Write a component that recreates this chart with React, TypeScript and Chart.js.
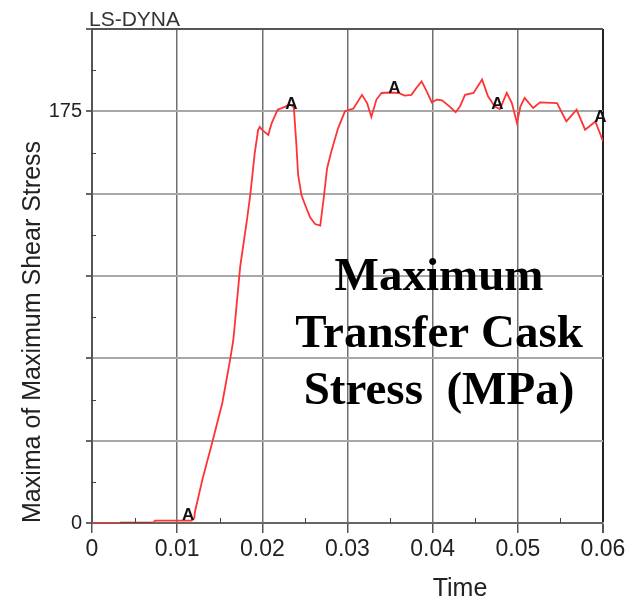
import React, { useEffect, useRef } from "react";
import { Chart, registerables } from "chart.js";

Chart.register(...registerables);

// ---- data ----
const timeValues = [
  0, 0.0072, 0.0074, 0.0117, 0.012, 0.0121, 0.013, 0.0141, 0.0153, 0.0162,
  0.0166, 0.0174, 0.0182, 0.0186, 0.0191, 0.0195, 0.0197, 0.02, 0.0207, 0.0211,
  0.0218, 0.0227, 0.0232, 0.0237, 0.024, 0.0242, 0.0246, 0.0252, 0.0256, 0.0262,
  0.0268, 0.0272, 0.0276, 0.0281, 0.0289, 0.0297, 0.0307, 0.0317, 0.0323, 0.0328,
  0.0334, 0.034, 0.035, 0.036, 0.0367, 0.0375, 0.0381, 0.0387, 0.0393, 0.0399,
  0.0405, 0.0411, 0.042, 0.0427, 0.0432, 0.0438, 0.0448, 0.0458, 0.0465, 0.0473,
  0.0479, 0.0487, 0.0493, 0.0499, 0.0503, 0.0508, 0.0518, 0.0526, 0.0546, 0.0557,
  0.0569, 0.0579, 0.0591, 0.06,
];
const stressValues = [
  0, 0, 1, 1, 2, 5, 19, 34, 51, 69,
  78, 109, 129, 140, 157, 167, 168.4, 167, 165, 170,
  175.7, 177, 178, 176.7, 160.7, 148, 139.3, 133.6, 130, 127.1,
  126.4, 137.9, 150.7, 157.9, 167.9, 175, 176.2, 182, 178.5, 172.6,
  180, 182.8, 183, 182.8, 181.7, 182, 185, 187.7, 183.5, 178.8,
  180, 179.7, 177, 174.6, 177, 182, 182.8, 188.5, 181.4, 177,
  176, 182.8, 178.5, 170, 177, 180.7, 176.4, 178.8, 178.5, 170.7,
  175.7, 167.2, 170.7, 162.3,
];
const darkSegmentTimes = [0.0033, 0.0072];
const darkSegmentValues = [0, 0];
const markerTimes = [0.0113, 0.0234, 0.0355, 0.0476, 0.0597];
const markerValues = [1.3, 176, 183, 176, 170.5];
const markerLabel = "A";

const yLabelledTicks = [0, 175];
const xMinorTicks = [0.005, 0.015, 0.025, 0.035, 0.045, 0.055];
const yMinorTicks = [17.5, 52.5, 87.5, 122.5, 157.5, 192.5];

const yAxisTitle = "Maxima of Maximum Shear Stress";
const xAxisTitle = "Time";
const programLabel = "LS-DYNA";
const overlayLines = ["Maximum", "Transfer Cask", "Stress  (MPa)"];

const SANS = '"Liberation Sans", Arial, sans-serif';
const SERIF = '"Liberation Serif", "Times New Roman", serif';

export default function App() {
  const ref = useRef<HTMLCanvasElement>(null);

  useEffect(() => {
    const canvas = ref.current;
    if (!canvas) return;

    const annotations = {
      id: "annotations",
      beforeDatasetsDraw(chart: any) {
        const { ctx, chartArea, scales } = chart;
        const x = scales.x;
        const y = scales.y;
        ctx.save();
        ctx.strokeStyle = "#444";
        ctx.lineWidth = 1;
        xMinorTicks.forEach((v) => {
          const px = Math.round(x.getPixelForValue(v)) + 0.5;
          ctx.beginPath();
          ctx.moveTo(px, chartArea.bottom);
          ctx.lineTo(px, chartArea.bottom - 5);
          ctx.stroke();
        });
        yMinorTicks.forEach((v) => {
          const py = Math.round(y.getPixelForValue(v)) + 0.5;
          ctx.beginPath();
          ctx.moveTo(chartArea.left - 1, py);
          ctx.lineTo(chartArea.left + 4, py);
          ctx.stroke();
        });
        ctx.restore();
      },
      afterDatasetsDraw(chart: any) {
        const { ctx, chartArea } = chart;
        ctx.save();
        // "A" markers sitting on the curve
        const meta = chart.getDatasetMeta(2);
        ctx.font = `bold 17px ${SANS}`;
        ctx.fillStyle = "#111";
        ctx.textAlign = "center";
        ctx.textBaseline = "alphabetic";
        meta.data.forEach((pt: any) => ctx.fillText(markerLabel, pt.x, pt.y));

        // LS-DYNA label
        ctx.font = `21px ${SANS}`;
        ctx.fillStyle = "#333";
        ctx.textAlign = "left";
        ctx.fillText(programLabel, chartArea.left - 3, chartArea.top - 3);

        // x axis title
        ctx.font = `25px ${SANS}`;
        ctx.fillStyle = "#222";
        ctx.textAlign = "center";
        ctx.fillText(xAxisTitle, 460, 596);

        // overlay caption
        ctx.font = `bold 47px ${SERIF}`;
        ctx.fillStyle = "#000";
        ctx.textAlign = "center";
        overlayLines.forEach((line, i) => ctx.fillText(line, 439, 290 + i * 57));
        ctx.restore();
      },
    };

    const chart = new Chart(canvas, {
      type: "scatter",
      data: {
        datasets: [
          {
            label: "stress",
            data: timeValues.map((t, i) => ({ x: t, y: stressValues[i] })),
            showLine: true,
            borderColor: "#ff3333",
            borderWidth: 1.8,
            pointRadius: 0,
            tension: 0,
            order: 2,
          },
          {
            label: "segment",
            data: darkSegmentTimes.map((t, i) => ({ x: t, y: darkSegmentValues[i] })),
            showLine: true,
            borderColor: "#a52a2a",
            borderWidth: 2.5,
            pointRadius: 0,
            order: 1,
          },
          {
            label: "markers",
            data: markerTimes.map((t, i) => ({ x: t, y: markerValues[i] })),
            showLine: false,
            pointRadius: 0,
            order: 0,
          },
        ],
      },
      options: {
        animation: false,
        responsive: true,
        maintainAspectRatio: false,
        devicePixelRatio: 1,
        events: [],
        layout: { padding: { left: 0, right: 33, top: 29, bottom: 0 } },
        plugins: { legend: { display: false }, tooltip: { enabled: false } },
        scales: {
          x: {
            type: "linear",
            min: 0,
            max: 0.06,
            afterFit: (s: any) => {
              s.height = 77;
            },
            ticks: {
              stepSize: 0.01,
              autoSkip: false,
              maxRotation: 0,
              padding: 3,
              color: "#222",
              font: { family: SANS, size: 23 },
              callback: (v: any) => (Number(v) === 0 ? "0" : Number(v).toFixed(2)),
            },
            grid: {
              color: (c: any) =>
                c.tick && Math.abs(c.tick.value - 0.06) < 1e-9 ? "#222" : "#707070",
              lineWidth: (c: any) =>
                c.tick && Math.abs(c.tick.value - 0.06) < 1e-9 ? 2 : 1.5,
              tickLength: 10,
              tickColor: "#555",
            },
            border: { color: "#666", width: 2 },
          },
          y: {
            type: "linear",
            min: 0,
            max: 210,
            afterFit: (s: any) => {
              s.width = 92;
            },
            ticks: {
              stepSize: 35,
              padding: 4,
              color: "#222",
              font: { family: SANS, size: 20 },
              callback: (v: any) => (yLabelledTicks.includes(Number(v)) ? String(v) : ""),
            },
            grid: {
              color: (c: any) => (c.tick && c.tick.value === 210 ? "#555" : "#a8a8a8"),
              lineWidth: 2,
              tickLength: 6,
              tickColor: "#666",
            },
            border: { color: "#555", width: 2 },
            title: {
              display: true,
              text: yAxisTitle,
              align: "start",
              color: "#222",
              font: { family: SANS, size: 25 },
              padding: { top: 18, bottom: 0 },
            },
          },
        },
      },
      plugins: [annotations],
    } as any);

    return () => chart.destroy();
  }, []);

  return (
    <div style={{ position: "absolute", left: 0, top: 0, width: 636, height: 600, background: "#fff" }}>
      <canvas ref={ref} />
    </div>
  );
}
